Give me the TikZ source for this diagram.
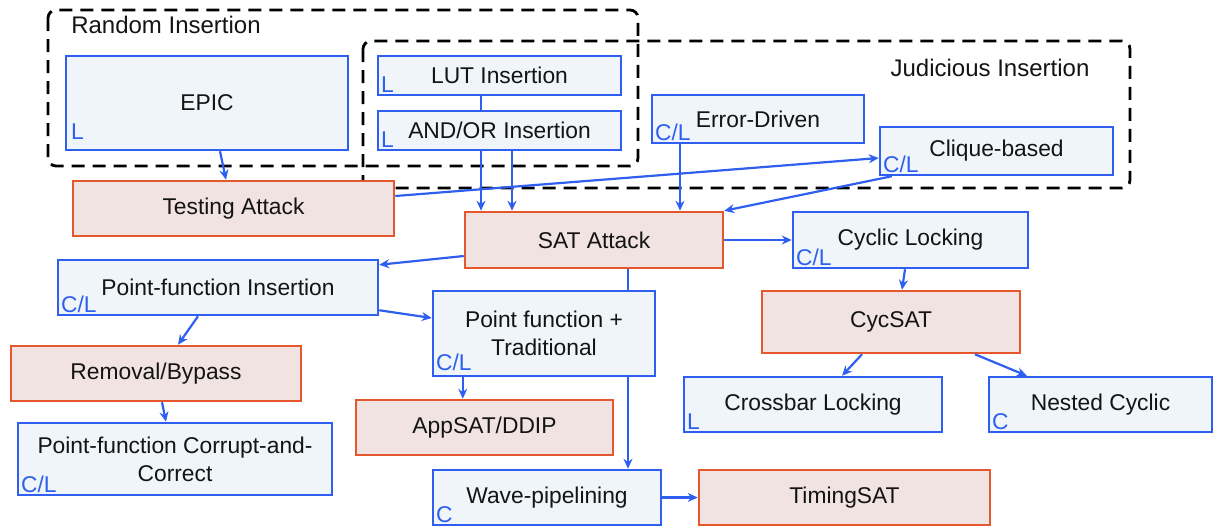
\documentclass[tikz,border=0pt]{standalone}
\usepackage{fontspec}
\setmainfont{Liberation Sans}
\usetikzlibrary{arrows.meta,calc}
\definecolor{bblue}{RGB}{47,95,240}
\definecolor{bfill}{RGB}{239,245,248}
\definecolor{oborder}{RGB}{229,88,45}
\definecolor{ofill}{RGB}{240,227,225}
\definecolor{txt}{RGB}{20,20,20}
\pgfdeclarelayer{bg}
\pgfsetlayers{bg,main}
\begin{document}
\begin{tikzpicture}[x=0.5pt,y=-0.5pt,
 box/.style={draw, line width=1.25pt, inner sep=2pt, align=center, font=\fontsize{11.4}{14}\selectfont, text=txt},
 bbox/.style={box, draw=bblue, fill=bfill},
 obox/.style={box, draw=oborder, fill=ofill},
 tag/.style={text=bblue, font=\fontsize{11.4}{12}\selectfont, inner sep=1pt, anchor=south west},
 grp/.style={draw=black, line width=1.4pt, dash pattern=on 6.5pt off 4pt, rounded corners=4pt},
 glabel/.style={font=\fontsize{12}{14}\selectfont, text=txt},
 arr/.style={draw=bblue, line width=1.1pt, -{Stealth[length=5pt,width=4.5pt]}},
 ln/.style={draw=bblue, line width=1.1pt}]
\useasboundingbox (0,0) rectangle (1213,526);

% groups
\draw[grp] (48,10) rectangle (638,166);
\draw[grp] (363,41) rectangle (1130,188);
\node[glabel] (rlab) at (166,25) {Random Insertion};
\node[glabel] (jlab) at (990,68) {Judicious Insertion};

% boxes
\node[bbox, minimum width=141pt, minimum height=47pt] (epic) at (207,103) {EPIC};
\node[bbox, minimum width=121.5pt, minimum height=19.5pt] (lut) at (499.5,75.5) {LUT Insertion};
\node[bbox, minimum width=121.5pt, minimum height=19.5pt] (andor) at (499.5,130.5) {AND/OR Insertion};
\node[bbox, minimum width=106pt, minimum height=24pt] (err) at (758,119) {Error-Driven};
\node[bbox, minimum width=116.5pt, minimum height=24pt] (clique) at (996.5,151) {Clique-based};
\node[obox, minimum width=160.5pt, minimum height=27.5pt] (test) at (233.5,208.5) {Testing Attack};
\node[obox, minimum width=129pt, minimum height=28pt] (sat) at (594,240) {SAT Attack};
\node[bbox, minimum width=117.5pt, minimum height=28pt] (cyc) at (910.5,240) {Cyclic Locking};
\node[bbox, minimum width=160pt, minimum height=27.5pt] (pfi) at (218,287.5) {Point-function Insertion};
\node[bbox, minimum width=111pt, minimum height=42.5pt] (pft) at (544,333.5) {Point function +\\Traditional};
\node[obox, minimum width=129pt, minimum height=31pt] (cycsat) at (891,322) {CycSAT};
\node[obox, minimum width=145pt, minimum height=27.5pt] (rem) at (156,373.5) {Removal/Bypass};
\node[obox, minimum width=128.5pt, minimum height=27.5pt] (app) at (484.5,427.5) {AppSAT/DDIP};
\node[bbox, minimum width=129pt, minimum height=27.5pt] (cross) at (813,404.5) {Crossbar Locking};
\node[bbox, minimum width=111.5pt, minimum height=27.5pt] (nest) at (1100.5,404.5) {Nested Cyclic};
\node[bbox, minimum width=157pt, minimum height=36pt] (pcc) at (175,459) {Point-function Corrupt-and-\\Correct};
\node[bbox, minimum width=114pt, minimum height=27.5pt] (wave) at (547,497.5) {Wave-pipelining};
\node[obox, minimum width=145.5pt, minimum height=27.5pt] (tsat) at (844.5,497.5) {TimingSAT};

% corner tags
\node[tag] (t1) at ([xshift=2pt,yshift=4.5pt]epic.south west) {L};
\node[tag] (t2) at ([xshift=1pt,yshift=0.5pt]lut.south west) {L};
\node[tag] (t3) at ([xshift=1pt,yshift=0.5pt]andor.south west) {L};
\node[tag] (t4) at ([xshift=1pt,yshift=0.5pt]err.south west) {C/L};
\node[tag] (t5) at ([xshift=1pt,yshift=0.5pt]clique.south west) {C/L};
\node[tag] (t6) at ([xshift=1pt,yshift=0.5pt]cyc.south west) {C/L};
\node[tag] (t7) at ([xshift=1pt,yshift=0.5pt]pfi.south west) {C/L};
\node[tag] (t8) at ([xshift=1pt,yshift=2pt]pft.south west) {C/L};
\node[tag] (t9) at ([xshift=1pt,yshift=0.5pt]cross.south west) {L};
\node[tag] (t10) at ([xshift=1pt,yshift=0.5pt]nest.south west) {C};
\node[tag] (t11) at ([xshift=1pt,yshift=0.5pt]pcc.south west) {C/L};
\node[tag] (t12) at ([xshift=1pt,yshift=0.5pt]wave.south west) {C};

% connectors
\begin{pgfonlayer}{bg}
\draw[arr] ([xshift=17pt]sat.south) -- ([xshift=17pt]sat.south |- wave.north);
\end{pgfonlayer}
\draw[arr] ([xshift=6.5pt]epic.south) -- ([xshift=-3.75pt]test.north);
\draw[ln] ([xshift=-9.25pt]lut.south) -- ([xshift=-9.25pt]andor.north);
\draw[arr] ([xshift=-9.25pt]andor.south) -- ([xshift=-9.25pt]andor.south |- sat.north);
\draw[arr] ([xshift=6.25pt]andor.south) -- ([xshift=6.25pt]andor.south |- sat.north);
\draw[arr] ([xshift=-39pt]err.south) -- ([xshift=-39pt]err.south |- sat.north);
\draw[arr] ([yshift=6.25pt]test.east) -- ([yshift=-3.5pt]clique.west);
\draw[arr] ([xshift=6.5pt]clique.south west) -- (sat.north east);
\draw[arr] (sat.east) -- (cyc.west);
\draw[arr] ([yshift=-8pt]sat.west) -- ([yshift=-3pt]pfi.north east);
\draw[arr] ([yshift=3pt]pfi.south east) -- ([yshift=7.75pt]pft.west);
\draw[arr] ([xshift=-10pt]pfi.south) -- ([xshift=11pt]rem.north);
\draw[arr] ([xshift=3pt]rem.south) -- ([xshift=-4.5pt]pcc.north);
\draw[arr] ([xshift=15.5pt]pft.south west) -- ([xshift=15.5pt]pft.south west |- app.north);
\draw[arr] (wave.east) -- (tsat.west);
\draw[arr] ([xshift=-2.75pt]cyc.south) -- ([xshift=5.5pt]cycsat.north);
\draw[arr] ([xshift=-14.5pt]cycsat.south) -- ([xshift=14.5pt]cross.north);
\draw[arr] ([xshift=42pt]cycsat.south) -- ([xshift=19.5pt]nest.north west);
\end{tikzpicture}
\end{document}
